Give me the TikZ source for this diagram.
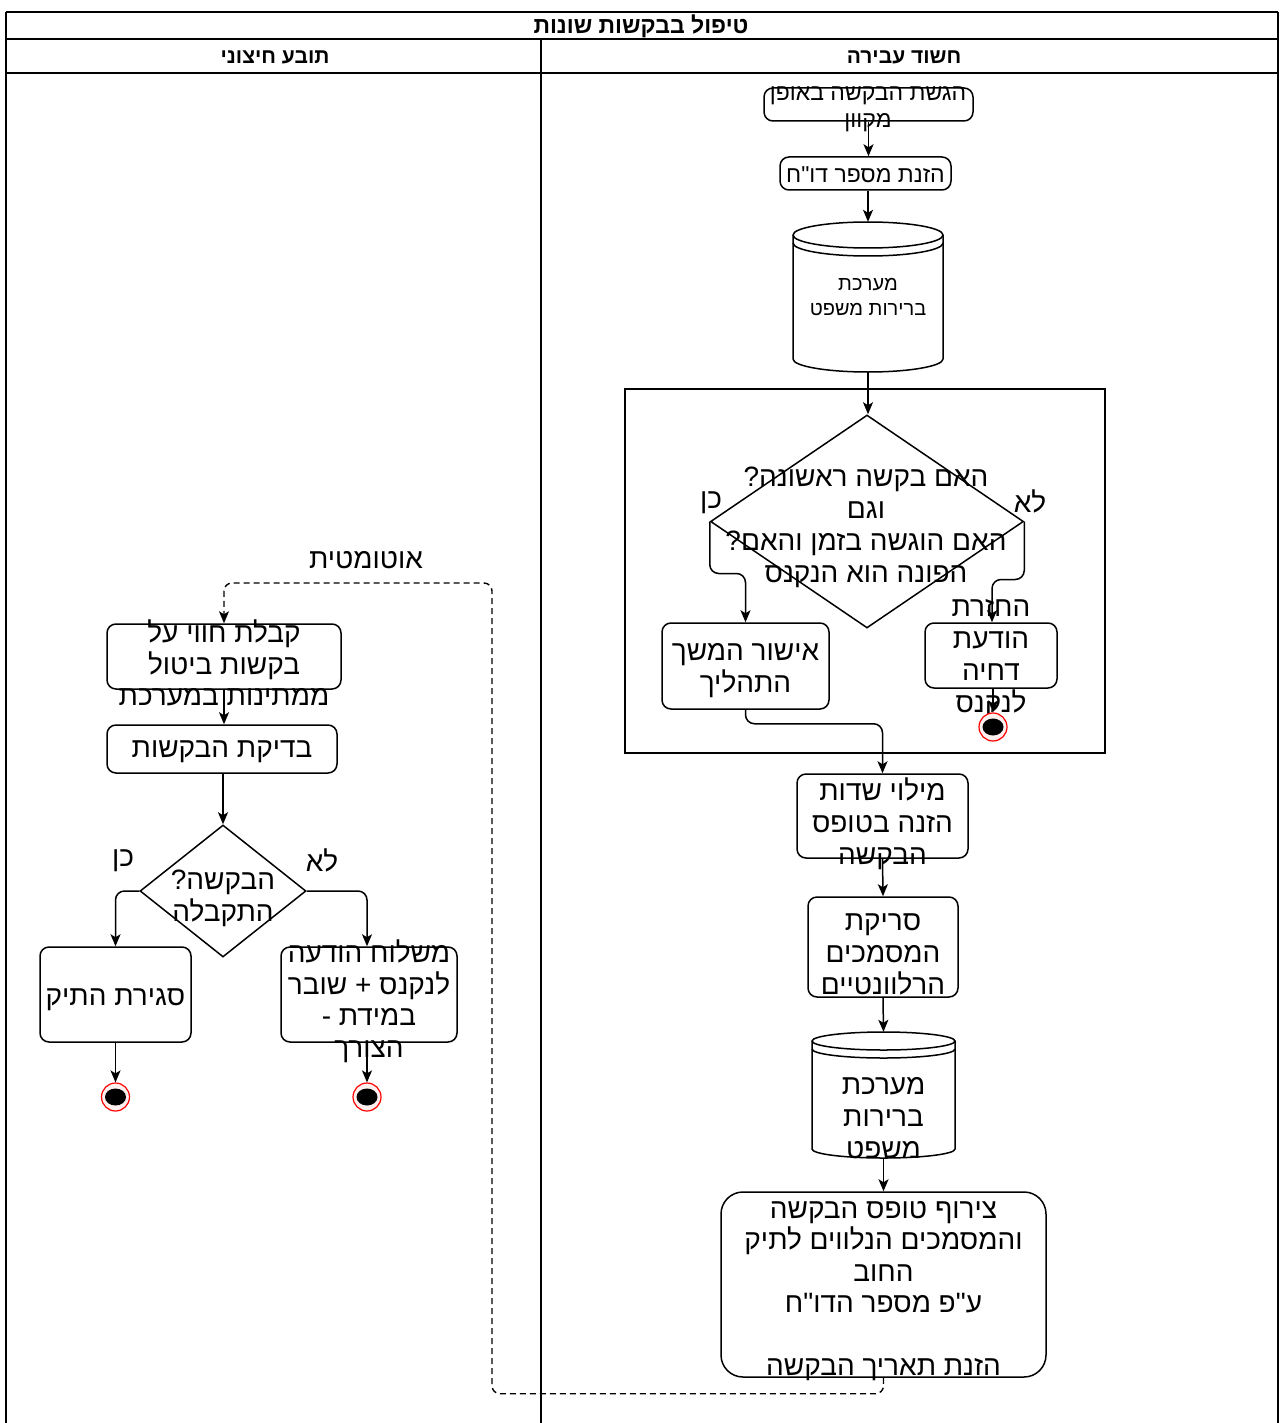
\documentclass[tikz,border=0pt]{standalone}
\usepackage{fontspec}
\setmainfont{Liberation Sans}[Script=Hebrew,Ligatures=TeXOff]
\TeXXeTstate=1
\usetikzlibrary{arrows.meta,calc,shapes.geometric}
\newcommand\HL[1]{\beginR#1\endR}
\newcommand\fsz[2]{\fontsize{#1pt}{#2pt}\selectfont}
\newcommand\dbcyl[5]{%
  \pgfmathsetmacro\cxr{(#2-#1)/2}%
  \pgfmathsetmacro\cyc{#3+#4}%
  \pgfmathsetmacro\cyd{#5-#4}%
  \pgfmathsetmacro\cyi{#3+#4+8}%
  \draw[ln,fill=white] (#1,\cyc) -- (#1,\cyd) arc[start angle=180,end angle=0,x radius=\cxr,y radius=#4] -- (#2,\cyc) arc[start angle=0,end angle=-180,x radius=\cxr,y radius=#4] -- cycle;
  \draw[ln] (#1,\cyc) arc[start angle=180,end angle=0,x radius=\cxr,y radius=#4];
  \draw[ln] (#1,\cyi) arc[start angle=180,end angle=0,x radius=\cxr,y radius=#4];
}
\begin{document}
\begin{tikzpicture}[x=1pt,y=-1pt,
  ln/.style={line width=1.5pt},
  box/.style={draw,line width=1.5pt,rounded corners=9pt,fill=white,inner sep=0pt},
  bigtxt/.style={align=center,inner sep=0pt,font=\fsz{28}{32}},
  smtxt/.style={align=center,inner sep=0pt,font=\fsz{23}{27}},
  lbl/.style={inner sep=0pt,font=\fsz{28}{32}},
  arr/.style={line width=1.5pt,rounded corners=9pt,-{Stealth[length=12pt,width=10pt,inset=3pt]}},
  dsh/.style={line width=1.4pt,dash pattern=on 6pt off 4pt,rounded corners=8pt,-{Stealth[length=12pt,width=10pt,inset=3pt]}},
  endst/.style={circle,draw=red,line width=1.2pt,fill=red!6,minimum size=28pt,inner sep=0pt,
    path picture={\fill[black] (path picture bounding box.center) ellipse[x radius=10.5pt,y radius=8.5pt];}},
  dia/.style={diamond,draw,line width=1.5pt,inner sep=0pt,fill=white}
]
\useasboundingbox (0,0) rectangle (1283,1423);
% swimlane frame
\draw[line width=2.2pt] (6,12) -- (1278,12);
\draw[line width=1.6pt] (6,1423) -- (6,12) (1278,12) -- (1278,1423);
\draw[line width=1.6pt] (6,39) -- (1278,39) (6,73) -- (1278,73) (541,39) -- (541,1423);
\node[font=\fsz{23}{26}\bfseries] (title) at (641,26) {\HL{טיפול בבקשות שונות}};
\node[font=\fsz{21}{24}\bfseries] (laneL) at (275,57) {\HL{תובע חיצוני}};
\node[font=\fsz{21}{24}\bfseries] (laneR) at (904,57) {\HL{חשוד עבירה}};

% right lane
\node[box,minimum width=209,minimum height=33] (submit) at (868.5,104.5) {};
\node[smtxt] (submitT) at (868,109) {\HL{הגשת הבקשה באופן}\\\HL{מקוון}};
\node[box,minimum width=171,minimum height=33] (report) at (865.5,173.5) {};
\node[smtxt] (reportT) at (865.5,175) {\HL{הזנת מספר דו"ח}};
\node[minimum width=150,minimum height=150,inner sep=0pt] (cyl1) at (868,297) {};
\dbcyl{793}{943}{222}{13}{372}
\node[align=center,inner sep=0pt,font=\fsz{20}{25}] (cyl1T) at (868,297) {\HL{מערכת}\\\HL{ברירות משפט}};

\node[draw,line width=1.5pt,minimum width=480,minimum height=364,inner sep=0pt] (frame) at (865,571) {};
\node[dia,minimum width=313,minimum height=213] (d1) at (867,521.5) {};
\node[bigtxt] (d1T) at (866,527) {\HL{האם בקשה ראשונה?}\\\HL{וגם}\\\HL{האם הוגשה בזמן והאם?}\\\HL{הפונה הוא הנקנס}};
\node[lbl] (yes1) at (711,503) {\HL{כן}};
\node[lbl] (no1) at (1030,501) {\HL{לא}};

\node[box,minimum width=167,minimum height=86] (approve) at (745.5,666) {};
\node[bigtxt] (approveT) at (745.5,671) {\HL{אישור המשך}\\\HL{התהליך}};
\node[box,minimum width=132,minimum height=65] (reject) at (991,655.5) {};
\node[bigtxt] (rejectT) at (991,659) {\HL{החזרת}\\\HL{הודעת}\\\HL{דחיה}\\\HL{לנקנס}};
\node[endst] (end1) at (993,727) {};

\node[box,minimum width=171,minimum height=84] (fill) at (882.5,816) {};
\node[bigtxt] (fillT) at (882.5,824) {\HL{מילוי שדות}\\\HL{הזנה בטופס}\\\HL{הבקשה}};
\node[box,minimum width=150,minimum height=100] (scan) at (883,947) {};
\node[bigtxt] (scanT) at (883,954) {\HL{סריקת}\\\HL{המסמכים}\\\HL{הרלוונטיים}};
\node[minimum width=143,minimum height=126,inner sep=0pt] (cyl2) at (883.5,1095) {};
\dbcyl{812}{955}{1032}{9}{1158}
\node[bigtxt] (cyl2T) at (883.5,1118) {\HL{מערכת}\\\HL{ברירות}\\\HL{משפט}};
\node[box,minimum width=325,minimum height=185,rounded corners=22pt] (attach) at (883.5,1284.5) {};
\node[bigtxt,font=\fsz{28}{31.5}] (attachT) at (883.5,1291) {\HL{צירוף טופס הבקשה}\\\HL{והמסמכים הנלווים לתיק}\\\HL{החוב}\\\HL{ע"פ מספר הדו"ח}\\[31.5pt]\HL{הזנת תאריך הבקשה}};

% left lane
\node[lbl] (auto) at (366,560) {\HL{אוטומטית}};
\node[box,minimum width=234,minimum height=65] (receive) at (224,656.5) {};
\node[bigtxt,font=\fsz{28}{31.5}] (receiveT) at (224,663) {\HL{קבלת חווי על}\\\HL{בקשות ביטול}\\\HL{ממתינות במערכת}};
\node[box,minimum width=230,minimum height=48] (check) at (222,749) {};
\node[bigtxt] (checkT) at (222,752) {\HL{בדיקת הבקשות}};
\node[dia,minimum width=166,minimum height=132] (d2) at (223,891) {};
\node[bigtxt] (d2T) at (223,898) {\HL{הבקשה?}\\\HL{התקבלה}};
\node[lbl] (yes2) at (123,861) {\HL{כן}};
\node[lbl] (no2) at (322,860) {\HL{לא}};
\node[box,minimum width=151,minimum height=95] (close) at (115.5,994.5) {};
\node[bigtxt] (closeT) at (115.5,1000) {\HL{סגירת התיק}};
\node[box,minimum width=176,minimum height=95] (send) at (369,994.5) {};
\node[bigtxt,font=\fsz{28}{31.5}] (sendT) at (369,1001) {\HL{משלוח הודעה}\\\HL{לנקנס + שובר}\\\HL{במידת -}\\\HL{הצורך}};
\node[endst] (end2) at (115.5,1097) {};
\node[endst] (end3) at (367,1097) {};

% connectors
\draw[arr] (submit.south) -- (submit.south |- report.north);
\draw[arr] (cyl1.north |- report.south) -- (cyl1.north);
\draw[arr] (cyl1.south) -- (cyl1.south |- d1.north);
\draw[arr] (d1.west) -- ++(0,52) -| (approve.north);
\draw[arr] (d1.east) -- ++(0,58) -| ($(reject.north)+(1,0)$);
\draw[arr] ($(reject.south)+(2,0)$) -- (end1.north);
\draw[arr] (approve.south) -- ++(0,14) -| (fill.north);
\draw[arr] (fill.south) -- (scan.north);
\draw[arr] (scan.south) -- (cyl2.north);
\draw[arr] (cyl2.south) -- (attach.north);
\draw[dsh] (attach.south) -- ++(0,16) -| (492,583) -| (receive.north);
\draw[arr] (receive.south) -- (receive.south |- check.north);
\draw[arr] (d2.north |- check.south) -- (d2.north);
\draw[arr] (d2.west) -| (close.north);
\draw[arr] (d2.east) -| ($(send.north)+(-2,0)$);
\draw[arr] (close.south) -- (end2.north);
\draw[arr] ($(send.south)+(-2,0)$) -- (end3.north);
\end{tikzpicture}
\end{document}
